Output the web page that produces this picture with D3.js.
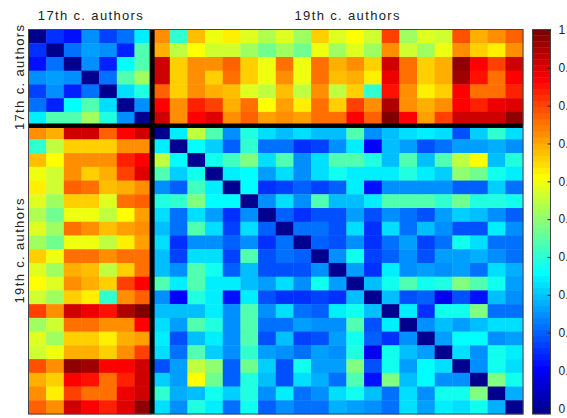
<!DOCTYPE html>
<html>
<head>
<meta charset="utf-8">
<script src="https://cdn.jsdelivr.net/npm/d3@7/dist/d3.min.js"></script>
<style>
  html, body { margin: 0; padding: 0; background: #fff; overflow: hidden; }
  svg { display: block; }
  text { font-family: "Liberation Sans", Arial, Helvetica, sans-serif; fill: #222; }
</style>
</head>
<body>
<svg id="chart" width="567" height="418"></svg>
<script>
// Author groups (rows/columns of the distance matrix, in order)
const groupLabels = ["17th c. authors", "19th c. authors"];
const groupSizes = [7, 21];

// Upper triangle of the symmetric distance matrix; row i lists columns i+1 .. 27
const upperRows = [
  [0.17,0.13,0.25,0.18,0.23,0.35, 0.72,0.42,0.68,0.60,0.64,0.59,0.54,0.59,0.52,0.66,0.58,0.62,0.57,0.81,0.53,0.58,0.57,0.79,0.70,0.73,0.78],
  [0.23,0.28,0.25,0.15,0.44, 0.70,0.55,0.62,0.57,0.57,0.52,0.48,0.53,0.48,0.60,0.52,0.58,0.52,0.73,0.57,0.52,0.60,0.73,0.67,0.64,0.73],
  [0.25,0.15,0.36,0.45, 0.92,0.67,0.72,0.72,0.78,0.66,0.60,0.75,0.60,0.76,0.69,0.73,0.67,0.91,0.76,0.66,0.70,0.97,0.87,0.80,0.92],
  [0.23,0.45,0.53, 0.91,0.66,0.72,0.67,0.75,0.66,0.60,0.73,0.60,0.75,0.68,0.70,0.64,0.89,0.76,0.66,0.70,0.96,0.85,0.76,0.86],
  [0.34,0.40, 0.78,0.66,0.72,0.70,0.68,0.58,0.56,0.68,0.56,0.73,0.55,0.66,0.42,0.85,0.72,0.64,0.66,0.86,0.76,0.76,0.83],
  [0.25, 0.86,0.72,0.83,0.80,0.70,0.76,0.62,0.71,0.64,0.75,0.67,0.81,0.72,0.95,0.73,0.70,0.73,0.86,0.83,0.88,0.90],
  [0.92,0.73,0.86,0.90,0.73,0.78,0.71,0.73,0.71,0.76,0.76,0.87,0.78,1.00,0.86,0.71,0.81,0.92,0.92,0.92,0.97],
  [0.35,0.56,0.45,0.25,0.40,0.34,0.31,0.34,0.31,0.30,0.45,0.25,0.30,0.34,0.35,0.34,0.20,0.32,0.42,0.34],
  [0.37,0.32,0.21,0.41,0.23,0.23,0.17,0.18,0.25,0.35,0.12,0.30,0.28,0.20,0.23,0.28,0.28,0.29,0.25],
  [0.39,0.43,0.49,0.34,0.45,0.26,0.33,0.45,0.45,0.40,0.30,0.44,0.30,0.45,0.55,0.62,0.31,0.40],
  [0.35,0.37,0.28,0.34,0.25,0.33,0.38,0.35,0.35,0.35,0.40,0.35,0.32,0.50,0.47,0.38,0.35],
  [0.36,0.17,0.18,0.21,0.18,0.21,0.35,0.14,0.25,0.25,0.25,0.25,0.21,0.21,0.32,0.23],
  [0.25,0.33,0.25,0.44,0.31,0.31,0.35,0.44,0.44,0.44,0.42,0.47,0.40,0.40,0.38],
  [0.21,0.17,0.20,0.20,0.27,0.20,0.26,0.23,0.20,0.28,0.32,0.30,0.26,0.21],
  [0.23,0.23,0.20,0.34,0.16,0.33,0.23,0.31,0.25,0.20,0.20,0.35,0.25],
  [0.21,0.20,0.26,0.16,0.23,0.28,0.18,0.23,0.38,0.34,0.23,0.23],
  [0.26,0.38,0.18,0.21,0.25,0.20,0.27,0.27,0.29,0.25,0.23],
  [0.28,0.17,0.35,0.25,0.27,0.25,0.27,0.23,0.34,0.29],
  [0.30,0.38,0.44,0.39,0.40,0.49,0.44,0.38,0.28],
  [0.30,0.20,0.21,0.10,0.20,0.13,0.30,0.25],
  [0.35,0.17,0.38,0.39,0.49,0.23,0.23],
  [0.25,0.30,0.27,0.31,0.34,0.34],
  [0.28,0.36,0.37,0.25,0.28],
  [0.33,0.26,0.38,0.35],
  [0.25,0.39,0.33],
  [0.49,0.38],
  [0.29]
];

// Colour bar ticks
const cbTicks = [0, 0.1, 0.2, 0.3, 0.4, 0.5, 0.6, 0.7, 0.8, 0.9, 1];
const cbTickLabels = ["0", "0.1", "0.2", "0.3", "0.4", "0.5", "0.6", "0.7", "0.8", "0.9", "1"];

// ---- build the full symmetric matrix ----
const n = d3.sum(groupSizes);
const cells = [];
for (let i = 0; i < n; i++) {
  for (let j = 0; j < n; j++) {
    let v = 0;
    if (j > i) v = upperRows[i][j - i - 1];
    else if (j < i) v = upperRows[j][i - j - 1];
    cells.push({ row: i, col: j, value: v });
  }
}

// ---- jet colormap, 64 levels ----
function jetColors(m) {
  const q = Math.ceil(m / 4);
  const u = [];
  for (let k = 1; k <= q; k++) u.push(k / q);
  for (let k = 1; k < q; k++) u.push(1);
  for (let k = q; k >= 1; k--) u.push(k / q);
  const off = Math.ceil(q / 2) - (m % 4 === 1 ? 1 : 0);
  const out = [];
  for (let i = 1; i <= m; i++) {
    const gi = i - off - 1, ri = i - off - q - 1, bi = i - off + q - 1;
    const r = ri >= 0 && ri < u.length ? u[ri] : 0;
    const g = gi >= 0 && gi < u.length ? u[gi] : 0;
    const b = bi >= 0 && bi < u.length ? u[bi] : 0;
    out.push(d3.rgb(r * 255, g * 255, b * 255).formatHex());
  }
  return out;
}
const jet = jetColors(64);
const color = d3.scaleQuantize().domain([0, 1]).range(jet);

// ---- layout ----
const svg = d3.select("#chart");
const plot = { left: 28.5, right: 523, top: 29.5, bottom: 414 };
const idx = d3.range(n);
const x = d3.scaleBand().domain(idx).range([plot.left, plot.right]).paddingInner(0).paddingOuter(0);
const y = d3.scaleBand().domain(idx).range([plot.top, plot.bottom]).paddingInner(0).paddingOuter(0);

svg.append("g")
  .selectAll("rect")
  .data(cells)
  .join("rect")
  .attr("x", d => x(d.col))
  .attr("y", d => y(d.row))
  .attr("width", x.bandwidth() + 0.4)
  .attr("height", y.bandwidth() + 0.4)
  .attr("fill", d => color(d.value));

// group separator lines
const split = groupSizes[0];
svg.append("line")
  .attr("x1", x(split)).attr("x2", x(split))
  .attr("y1", plot.top).attr("y2", plot.bottom)
  .attr("stroke", "#000").attr("stroke-width", 5);
svg.append("line")
  .attr("x1", plot.left).attr("x2", plot.right)
  .attr("y1", y(split)).attr("y2", y(split))
  .attr("stroke", "#000").attr("stroke-width", 4.5);

// axes box
svg.append("rect")
  .attr("x", plot.left).attr("y", plot.top)
  .attr("width", plot.right - plot.left).attr("height", plot.bottom - plot.top)
  .attr("fill", "none").attr("stroke", "#444").attr("stroke-width", 1);

// group labels
const topLabelX = [(plot.left + x(split)) / 2, 347];
svg.selectAll("text.top")
  .data(groupLabels)
  .join("text")
  .attr("class", "top")
  .attr("x", (d, i) => topLabelX[i])
  .attr("y", 19.5)
  .attr("text-anchor", "middle")
  .attr("font-size", 13)
  .attr("textLength", 105)
  .attr("lengthAdjust", "spacing")
  .text(d => d);

const sideLabelY = [(plot.top + y(split)) / 2, 251];
svg.selectAll("text.side")
  .data(groupLabels)
  .join("text")
  .attr("class", "side")
  .attr("transform", (d, i) => `translate(23.5,${sideLabelY[i]}) rotate(-90)`)
  .attr("text-anchor", "middle")
  .attr("font-size", 13)
  .attr("textLength", 105)
  .attr("lengthAdjust", "spacing")
  .text(d => d);

// ---- colour bar ----
const cb = { left: 532.5, right: 550.5 };
const cbFill = d3.scaleLinear().domain([0, 1]).range([plot.bottom, plot.top]);
const cbScale = d3.scaleLinear().domain([0, 1]).range([408.3, 30]);
const step = 1 / jet.length;
svg.append("g")
  .selectAll("rect")
  .data(jet)
  .join("rect")
  .attr("x", cb.left)
  .attr("width", cb.right - cb.left)
  .attr("y", (d, i) => cbFill((i + 1) * step))
  .attr("height", (d, i) => cbFill(i * step) - cbFill((i + 1) * step) + 0.3)
  .attr("fill", d => d);

svg.append("rect")
  .attr("x", cb.left).attr("y", plot.top)
  .attr("width", cb.right - cb.left).attr("height", plot.bottom - plot.top)
  .attr("fill", "none").attr("stroke", "#444").attr("stroke-width", 1);

const cbAxis = d3.axisRight(cbScale)
  .tickValues(cbTicks)
  .tickFormat((d, i) => cbTickLabels[i])
  .tickSize(-3)
  .tickPadding(8);
const cbG = svg.append("g")
  .attr("transform", `translate(${cb.right},0)`)
  .call(cbAxis);
cbG.select(".domain").remove();
cbG.selectAll(".tick line").attr("stroke", "#222");
cbG.selectAll(".tick text")
  .attr("font-size", 12)
  .attr("font-family", "Liberation Sans, Arial, sans-serif")
  .attr("fill", "#222");
</script>
</body>
</html>
